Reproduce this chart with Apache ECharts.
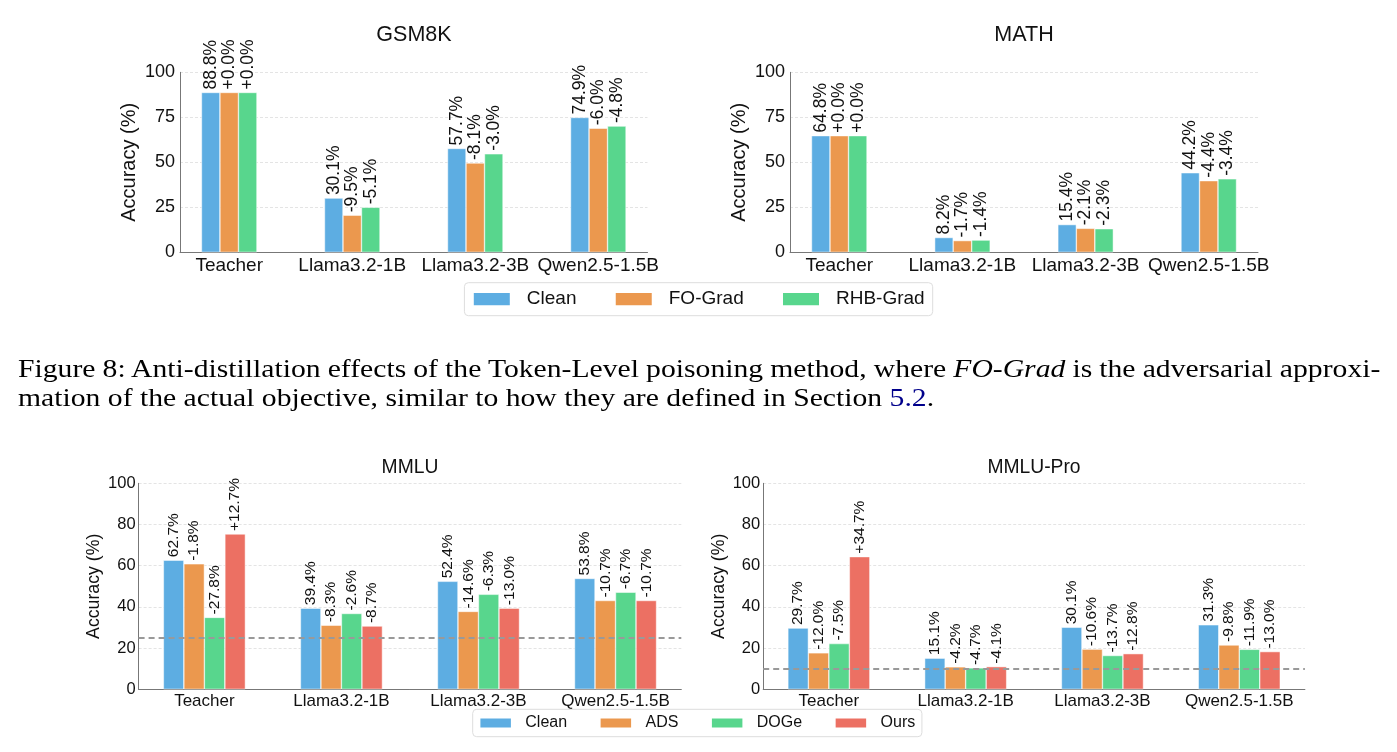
<!DOCTYPE html>
<html>
<head>
<meta charset="utf-8">
<script src="https://cdn.jsdelivr.net/npm/echarts@6/dist/echarts.min.js"></script>
<style>
  html, body { margin: 0; padding: 0; background: #fff; }
  #chart { width: 1397px; height: 752px; }
  .caption {
    position: absolute; left: 18px; top: 355px; width: 1194px;
    transform: scaleX(1.141); transform-origin: left top;
    font-family: "Liberation Serif", "DejaVu Serif", serif;
    font-size: 26px; line-height: 28.7px; color: #000;
  }
  .caption .l1 { white-space: nowrap; }
  .caption .ref { color: #00008b; }
</style>
</head>
<body>
<div id="chart"></div>
<div class="caption">
  <div class="l1"><span id="line1">Figure 8: Anti-distillation effects of the Token-Level poisoning method, where <i>FO-Grad</i> is the adversarial approxi-</span></div>
  <div>mation of the actual objective, similar to how they are defined in Section <span class="ref">5.2</span>.</div>
</div>
<script>
const categories = ['Teacher', 'Llama3.2-1B', 'Llama3.2-3B', 'Qwen2.5-1.5B']

// GSM8K
const gsmClean = [88.8, 30.1, 57.7, 74.9]
const gsmFO = [88.8, 20.6, 49.6, 68.9]
const gsmRHB = [88.8, 25.0, 54.7, 70.1]
const gsmCleanLabels = ['88.8%', '30.1%', '57.7%', '74.9%']
const gsmFOLabels = ['+0.0%', '-9.5%', '-8.1%', '-6.0%']
const gsmRHBLabels = ['+0.0%', '-5.1%', '-3.0%', '-4.8%']

// MATH
const mathClean = [64.8, 8.2, 15.4, 44.2]
const mathFO = [64.8, 6.5, 13.3, 39.8]
const mathRHB = [64.8, 6.8, 13.1, 40.8]
const mathCleanLabels = ['64.8%', '8.2%', '15.4%', '44.2%']
const mathFOLabels = ['+0.0%', '-1.7%', '-2.1%', '-4.4%']
const mathRHBLabels = ['+0.0%', '-1.4%', '-2.3%', '-3.4%']

// MMLU
const mmluClean = [62.7, 39.4, 52.4, 53.8]
const mmluADS = [60.9, 31.1, 37.8, 43.1]
const mmluDOGe = [34.9, 36.8, 46.1, 47.1]
const mmluOurs = [75.4, 30.7, 39.4, 43.1]
const mmluCleanLabels = ['62.7%', '39.4%', '52.4%', '53.8%']
const mmluADSLabels = ['-1.8%', '-8.3%', '-14.6%', '-10.7%']
const mmluDOGeLabels = ['-27.8%', '-2.6%', '-6.3%', '-6.7%']
const mmluOursLabels = ['+12.7%', '-8.7%', '-13.0%', '-10.7%']
const mmluBaseline = 25

// MMLU-Pro
const proClean = [29.7, 15.1, 30.1, 31.3]
const proADS = [17.7, 10.9, 19.5, 21.5]
const proDOGe = [22.2, 10.4, 16.4, 19.4]
const proOurs = [64.4, 11.0, 17.3, 18.3]
const proCleanLabels = ['29.7%', '15.1%', '30.1%', '31.3%']
const proADSLabels = ['-12.0%', '-4.2%', '-10.6%', '-9.8%']
const proDOGeLabels = ['-7.5%', '-4.7%', '-13.7%', '-11.9%']
const proOursLabels = ['+34.7%', '-4.1%', '-12.8%', '-13.0%']
const proBaseline = 10

const colors = { Clean: '#5DADE2', 'FO-Grad': '#EB984E', 'RHB-Grad': '#58D68D', ADS: '#EB984E', DOGe: '#58D68D', Ours: '#EC7063' }
const FONT = '"Liberation Sans", Arial, sans-serif'

// squeeze the first caption line to the full width, like the justified TeX line
const line1 = document.getElementById('line1')
const spaces = (line1.textContent.match(/ /g) || []).length
const ws = (1194 - line1.getBoundingClientRect().width / 1.141) / spaces
line1.style.wordSpacing = ws + 'px'

// plot areas, in px
const grids = [
  { left: 180, top: 72.3, width: 467.5, height: 180 },
  { left: 790, top: 72.3, width: 468, height: 180 },
  { left: 138.6, top: 483.3, width: 542.7, height: 206 },
  { left: 763.2, top: 483.3, width: 541.7, height: 206 }
]

const big = { tick: 18, cat: 19, label: 17.5, name: 20, nameGap: 41, xMin: -0.4, xMax: 3.4, interval: 25, barWidth: 18.5 }
const small = { tick: 16.5, cat: 17, label: 15.5, name: 17.7, nameGap: 35, xMin: -0.48, xMax: 3.48, interval: 20, barWidth: 20.5 }
const sizes = [big, big, small, small]

const xAxes = sizes.map((s, i) => ({
  type: 'value', gridIndex: i, min: s.xMin, max: s.xMax,
  axisLine: { show: true, onZero: false, lineStyle: { color: '#777', width: 1 } },
  axisTick: { show: false },
  splitLine: { show: false },
  axisLabel: {
    customValues: [0, 1, 2, 3],
    formatter: v => categories[Math.round(v)] || '',
    fontSize: s.cat, fontFamily: FONT, color: '#111', margin: 4
  }
}))

const yAxes = sizes.map((s, i) => ({
  type: 'value', gridIndex: i, min: 0, max: 100, interval: s.interval,
  name: 'Accuracy (%)', nameLocation: 'middle', nameGap: s.nameGap,
  nameTextStyle: { fontSize: s.name, fontFamily: FONT, color: '#111' },
  axisLine: { show: true, onZero: false, lineStyle: { color: '#777', width: 1 } },
  axisTick: { show: false },
  splitLine: { show: true, lineStyle: { color: '#ddd', type: [3, 2], width: 0.8 } },
  axisLabel: { fontSize: s.tick, fontFamily: FONT, color: '#111', margin: i < 2 ? 5 : 3 }
}))

function barSeries(name, gi, values, labels, baseline) {
  const s = sizes[gi]
  const series = {
    name, type: 'bar', xAxisIndex: gi, yAxisIndex: gi,
    barWidth: s.barWidth, barGap: '0%',
    data: values.map((v, i) => [i, v]),
    itemStyle: { color: colors[name], borderColor: '#fff', borderWidth: 0.5 },
    label: {
      show: true, position: 'top', rotate: 90, align: 'left', verticalAlign: 'middle',
      distance: 3, fontSize: s.label, fontFamily: FONT, color: '#111',
      formatter: p => labels[p.dataIndex]
    }
  }
  if (baseline != null) {
    series.markLine = {
      silent: true, symbol: ['none', 'none'], label: { show: false },
      lineStyle: { color: '#999', type: [6, 4], width: 1.8 },
      data: [{ yAxis: baseline }]
    }
  }
  return series
}

const series = [
  barSeries('Clean', 0, gsmClean, gsmCleanLabels),
  barSeries('FO-Grad', 0, gsmFO, gsmFOLabels),
  barSeries('RHB-Grad', 0, gsmRHB, gsmRHBLabels),
  barSeries('Clean', 1, mathClean, mathCleanLabels),
  barSeries('FO-Grad', 1, mathFO, mathFOLabels),
  barSeries('RHB-Grad', 1, mathRHB, mathRHBLabels),
  barSeries('Clean', 2, mmluClean, mmluCleanLabels, mmluBaseline),
  barSeries('ADS', 2, mmluADS, mmluADSLabels),
  barSeries('DOGe', 2, mmluDOGe, mmluDOGeLabels),
  barSeries('Ours', 2, mmluOurs, mmluOursLabels),
  barSeries('Clean', 3, proClean, proCleanLabels, proBaseline),
  barSeries('ADS', 3, proADS, proADSLabels),
  barSeries('DOGe', 3, proDOGe, proDOGeLabels),
  barSeries('Ours', 3, proOurs, proOursLabels)
]

const titles = [
  { text: 'GSM8K', x: 414, y: 35, size: 21.5 },
  { text: 'MATH', x: 1024, y: 35, size: 21.5 },
  { text: 'MMLU', x: 410, y: 467.5, size: 19.3 },
  { text: 'MMLU-Pro', x: 1034, y: 467.5, size: 19.3 }
]

const chart = echarts.init(document.getElementById('chart'))
chart.setOption({
  animation: false,
  grid: grids,
  xAxis: xAxes,
  yAxis: yAxes,
  series,
  legend: [
    {
      data: ['Clean', 'FO-Grad', 'RHB-Grad'],
      left: 464.4, top: 282.7, icon: 'rect',
      itemWidth: 38, itemHeight: 14.3, itemGap: 37.3,
      padding: [7, 8, 7, 7.4],
      borderColor: '#ddd', borderWidth: 1, borderRadius: 4,
      selectedMode: false,
      textStyle: { fontSize: 19, fontFamily: FONT, color: '#111', padding: [0, 0, 0, 11] }
    },
    {
      data: ['Clean', 'ADS', 'DOGe', 'Ours'],
      left: 472.7, top: 709.3, icon: 'rect',
      itemWidth: 32.5, itemHeight: 11, itemGap: 31.5,
      padding: [5.7, 6.7, 5.7, 5.7],
      borderColor: '#ddd', borderWidth: 1, borderRadius: 4,
      selectedMode: false,
      textStyle: { fontSize: 16, fontFamily: FONT, color: '#111', padding: [0, 0, 0, 8.4] }
    }
  ],
  graphic: titles.map(t => ({
    type: 'text', x: t.x, y: t.y,
    style: { text: t.text, align: 'center', verticalAlign: 'middle', fontSize: t.size, fontFamily: FONT, fill: '#111' }
  }))
})
</script>
</body>
</html>
